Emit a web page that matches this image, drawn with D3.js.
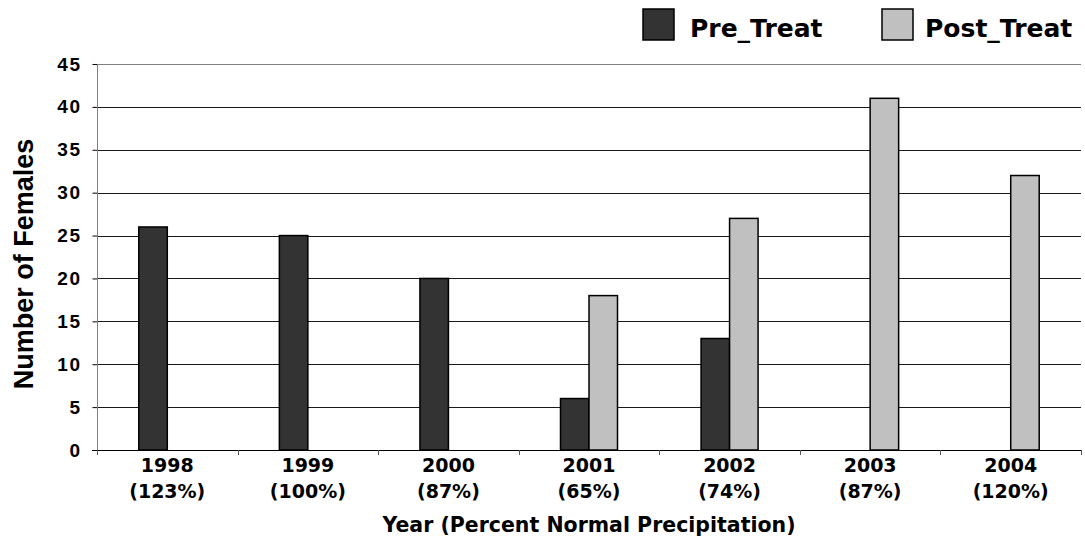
<!DOCTYPE html>
<html><head><meta charset="utf-8">
<script src="https://cdn.jsdelivr.net/npm/d3@7"></script>
<style>
html,body{margin:0;padding:0;background:#fff;}
svg{display:block;}
</style></head>
<body>
<svg id="chart" width="1085" height="552"></svg>
<script>
const years = ["1998","1999","2000","2001","2002","2003","2004"];
const precip = ["(123%)","(100%)","(87%)","(65%)","(74%)","(87%)","(120%)"];
const seriesNames = ["Pre_Treat","Post_Treat"];
const preTreat = [26, 25, 20, 6, 13, null, null];
const postTreat = [null, null, null, 18, 27, 41, 32];
const yTicks = [0,5,10,15,20,25,30,35,40,45];
const colors = ["#333333","#c0c0c0"];

(function(){
const svg = d3.select("#chart");
const pL = 97, pR = 1081, pT = 64, pB = 450;

const x0 = d3.scaleBand().domain(years).range([pL, pR]).padding(0);
const bw = x0.bandwidth();
const x1 = d3.scaleBand().domain(seriesNames).range([bw/2 - 28.5, bw/2 + 28.5]).padding(0);
const y = d3.scaleLinear().domain([0,45]).range([pB, pT]);

// gridlines
svg.append("g").selectAll("line").data(yTicks.filter(d=>d>0)).join("line")
  .attr("x1", pL).attr("x2", pR)
  .attr("y1", d=>Math.round(y(d))+0.5).attr("y2", d=>Math.round(y(d))+0.5)
  .attr("stroke", d=> d===45 ? "#808080" : "#1a1a1a").attr("stroke-width", 1);

// y axis
const yAxis = svg.append("g").attr("transform", `translate(${pL+0.5},0)`)
  .call(d3.axisLeft(y).tickValues(yTicks).tickSize(5).tickPadding(11));
yAxis.select(".domain").remove();
yAxis.selectAll(".tick line").attr("stroke","#000");
yAxis.selectAll("text").attr("font-family","Liberation Sans, Arial, sans-serif")
  .attr("font-weight","bold").attr("font-size","19px").attr("letter-spacing","1.5px").attr("fill","#000");
svg.append("line").attr("x1", pL+0.5).attr("x2", pL+0.5).attr("y1", pT).attr("y2", pB+5)
  .attr("stroke","#808080").attr("stroke-width",1);

// bars
const data = years.map((yr,i)=>({year:yr, vals:[preTreat[i], postTreat[i]]}));
const groups = svg.append("g").selectAll("g").data(data).join("g")
  .attr("transform", d=>`translate(${x0(d.year)},0)`);
groups.selectAll("rect").data(d=>d.vals.map((v,j)=>({name:seriesNames[j], v, j})).filter(d=>d.v!=null))
  .join("rect")
  .attr("x", d=>x1(d.name)).attr("width", x1.bandwidth())
  .attr("y", d=>y(d.v)).attr("height", d=>y(0)-y(d.v))
  .attr("fill", d=>colors[d.j]).attr("stroke","#000").attr("stroke-width",1.5);

// x axis
svg.append("line").attr("x1", pL-5).attr("x2", pR).attr("y1", pB+0.5).attr("y2", pB+0.5)
  .attr("stroke","#000").attr("stroke-width",1.2);
const xTickPos = years.map(d=>x0(d)).concat([pR]);
svg.append("g").selectAll("line").data(xTickPos).join("line")
  .attr("x1", d=>Math.round(d)+0.5).attr("x2", d=>Math.round(d)+0.5)
  .attr("y1", pB).attr("y2", pB+5).attr("stroke","#555");

const xl = svg.append("g").selectAll("text").data(years).join("text")
  .attr("x", d=>x0(d)+bw/2).attr("y", 472)
  .attr("text-anchor","middle").attr("font-family","DejaVu Sans, Verdana, sans-serif")
  .attr("font-weight","bold").attr("font-size","19px").attr("fill","#000");
xl.append("tspan").attr("x", d=>x0(d)+bw/2).text(d=>d);
xl.append("tspan").attr("x", d=>x0(d)+bw/2).attr("dy", 26).text((d,i)=>precip[i]);

// axis titles
svg.append("text").attr("x", (pL+pR)/2).attr("y", 532).attr("text-anchor","middle")
  .attr("font-family","DejaVu Sans, Verdana, sans-serif").attr("font-weight","bold")
  .attr("font-size","20.5px").attr("fill","#000").text("Year (Percent Normal Precipitation)");
svg.append("text").attr("transform","translate(33,264) rotate(-90)").attr("text-anchor","middle")
  .attr("font-family","Liberation Sans, Arial, sans-serif").attr("font-weight","bold")
  .attr("font-size","27px").attr("fill","#000").text("Number of Females");

// legend
const legendX = [643, 882];
const legend = svg.append("g").selectAll("g").data(seriesNames).join("g")
  .attr("transform", (d,i)=>`translate(${legendX[i]},9)`);
legend.append("rect").attr("x",0).attr("y",0).attr("width",31).attr("height",31)
  .attr("fill",(d,i)=>colors[i]).attr("stroke","#000").attr("stroke-width",1.5);
legend.append("text").attr("x",(d,i)=> i===0 ? 47 : 43).attr("y",28)
  .attr("font-family","DejaVu Sans, Verdana, sans-serif").attr("font-weight","bold")
  .attr("font-size","25px").attr("fill","#000").text(d=>d);
})();
</script>
</body></html>
